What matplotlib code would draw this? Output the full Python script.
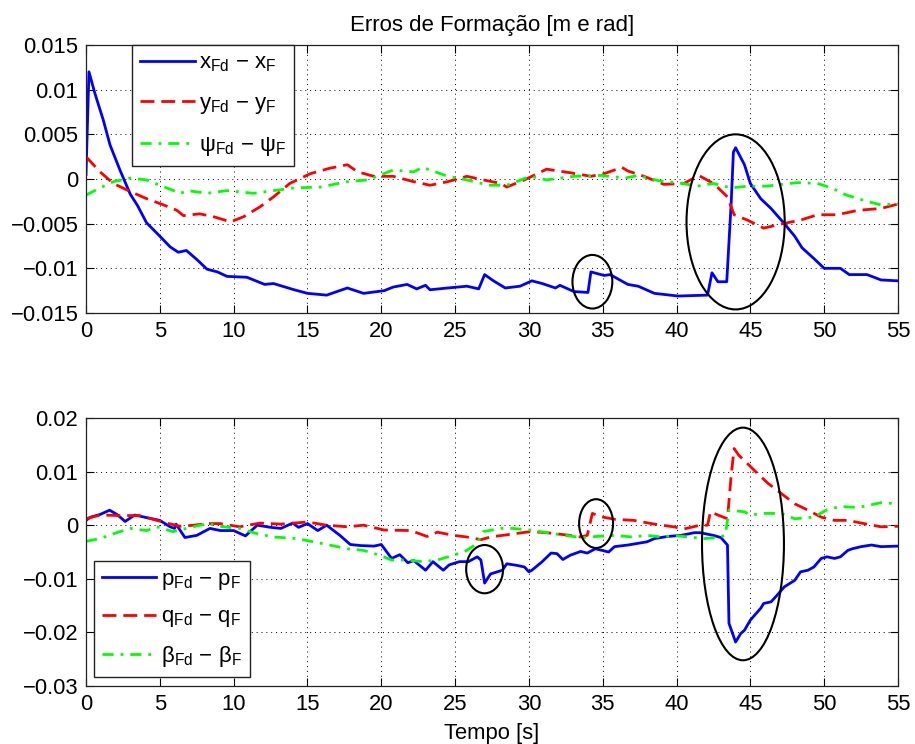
import matplotlib
matplotlib.use('Agg')
import matplotlib.pyplot as plt
from matplotlib.patches import Ellipse

plt.rcParams['font.family'] = ['Liberation Sans', 'DejaVu Sans']
plt.rcParams['font.size'] = 15.8

# --- top plot: position / heading errors ---
t_x = [0, 0.2, 0.6, 1.17, 1.63, 2.3, 3.0, 3.5, 4.1, 5.0, 5.7, 6.25, 6.8, 7.5, 8.2, 8.9,
       9.55, 10.9, 12.1, 12.7, 14.1, 15.0, 16.3, 17.7, 18.8, 20.2, 20.8, 21.75, 22.4,
       23.0, 23.3, 24.5, 25.8, 26.6, 27.0, 27.6, 28.4, 28.9, 29.4, 30.2, 30.9, 31.8,
       32.1, 33.05, 34.0, 34.2, 35.1, 35.5, 36.7, 37.4, 38.5, 40.1, 42.1, 42.4, 42.8,
       43.4, 43.7, 43.85, 44.0, 44.6, 45.0, 45.7, 46.4, 47.2, 48.0, 48.5, 49.3, 50.0,
       51.1, 51.7, 52.9, 53.85, 55]
x_err = [0.0005, 0.012, 0.0096, 0.0066, 0.0038, 0.001, -0.0017, -0.003, -0.0049, -0.0064,
         -0.0076, -0.0082, -0.008, -0.009, -0.0101, -0.0104, -0.0109, -0.011, -0.0118,
         -0.0117, -0.0124, -0.0128, -0.013, -0.0122, -0.0128, -0.0125, -0.0121, -0.0118,
         -0.0123, -0.0119, -0.0124, -0.0122, -0.012, -0.0123, -0.0107, -0.0114, -0.0122,
         -0.0121, -0.012, -0.0114, -0.0117, -0.0122, -0.0119, -0.0126, -0.0127, -0.0104,
         -0.0108, -0.0107, -0.0118, -0.012, -0.0128, -0.0131, -0.013, -0.0105, -0.0115,
         -0.0115, -0.0027, 0.003, 0.0035, 0.0016, -0.0005, -0.0022, -0.0033, -0.0048,
         -0.0064, -0.0077, -0.0089, -0.01, -0.01, -0.0107, -0.0107, -0.0113, -0.0114]

t_y = [0, 0.95, 1.85, 3.0, 4.1, 5.25, 6.15, 6.6, 7.7, 8.6, 9.8, 10.7, 11.8, 12.7, 13.8,
       15.2, 16.5, 17.7, 18.4, 19.5, 20.8, 22.2, 23.3, 24.5, 25.8, 26.9, 28.1, 28.5,
       29.7, 31.2, 32.8, 34.2, 35.1, 36.3, 36.7, 37.8, 39.15, 40.5, 41.5, 42.5, 43.45,
       43.9, 44.8, 45.9, 47.2, 48.4, 49.55, 50.9, 52.3, 53.85, 55]
y_err = [0.0025, 0.0008, -0.0005, -0.0014, -0.0022, -0.0029, -0.0035, -0.0041, -0.0039,
         -0.0042, -0.0048, -0.0042, -0.0031, -0.002, -0.0005, 0.0006, 0.0012, 0.0016,
         0.0008, 0.0003, 0.0003, -0.0003, -0.0007, -0.0003, 0.0003, -0.0001, -0.0005,
         -0.0009, -0.0001, 0.0011, 0.0007, 0.0003, 0.0006, 0.0013, 0.0009, 0.0003,
         -0.0006, -0.0005, 0.0004, -0.0005, -0.002, -0.004, -0.0046, -0.0055, -0.005,
         -0.0046, -0.004, -0.004, -0.0035, -0.0033, -0.0028]

t_psi = [0, 0.95, 1.85, 3.0, 4.1, 5.0, 6.4, 6.9, 8.2, 9.55, 11.35, 12.7, 14.1, 15.9, 17.7,
         19.1, 20.8, 22.2, 22.8, 24.5, 25.8, 27.3, 28.5, 30.1, 31.2, 33.05, 34.9, 36.5,
         37.4, 38.8, 40.4, 41.4, 42.5, 43.7, 44.8, 46.1, 48.2, 49.55, 50.5, 51.5, 52.9,
         53.85, 55]
psi_err = [-0.0018, -0.001, -0.0003, 0.0001, -0.0001, -0.0007, -0.0016, -0.0013, -0.0016,
           -0.0013, -0.0016, -0.0013, -0.001, -0.0009, -0.0003, -0.0001, 0.001, 0.0008,
           0.0013, 0.0003, -0.0001, -0.0007, -0.0007, 0.0003, -0.0001, 0.0003, 0.0004,
           0.0001, 0.0004, -0.0002, -0.0005, -0.0008, -0.0005, -0.001, -0.0008, -0.0008,
           -0.0004, -0.0005, -0.001, -0.0018, -0.0025, -0.0029, -0.0028]

# --- bottom plot: attitude errors ---
t_p = [0, 0.3, 0.95, 1.6, 2.1, 2.65, 3.3, 4.3, 5.0, 5.7, 6.0, 6.1, 6.7, 7.5, 8.4, 9.1,
       10.0, 10.8, 11.6, 12.5, 13.2, 14.0, 14.4, 15.0, 15.7, 16.3, 17.2, 17.9, 18.6,
       19.5, 20.0, 20.7, 21.25, 21.8, 22.2, 23.0, 23.5, 24.2, 24.6, 25.3, 25.9, 26.5,
       26.75, 27.0, 27.4, 28.2, 28.5, 29.2, 29.7, 30.0, 30.2, 30.9, 31.5, 31.9, 32.3,
       32.8, 33.5, 33.95, 34.5, 35.4, 35.8, 36.7, 37.35, 38.0, 38.5, 39.4, 40.3, 41.2,
       41.6, 42.5, 43.0, 43.45, 43.55, 44.0, 44.35, 44.6, 45.0, 45.7, 45.9, 46.4, 46.8,
       47.3, 48.0, 48.4, 48.9, 49.3, 49.8, 50.2, 50.7, 51.1, 51.6, 51.9, 52.5, 53.2,
       53.85, 55]
p_err = [0.0009, 0.0015, 0.002, 0.0028, 0.002, 0.0007, 0.0019, 0.0013, 0.0009, -0.0003,
         -0.0006, 0.0002, -0.0023, -0.0019, -0.0006, -0.001, -0.001, -0.002, 0.0,
         -0.0004, -0.0006, 0.0004, -0.0004, 0.0003, -0.001, 0.0, -0.0019, -0.0036,
         -0.0038, -0.0039, -0.0036, -0.0062, -0.0055, -0.007, -0.0066, -0.0084, -0.0068,
         -0.0084, -0.0074, -0.0068, -0.0068, -0.0059, -0.0065, -0.0108, -0.0091, -0.0084,
         -0.0072, -0.0075, -0.0078, -0.0087, -0.0084, -0.0068, -0.0052, -0.0053, -0.0064,
         -0.0056, -0.0049, -0.0052, -0.0044, -0.005, -0.004, -0.0037, -0.0034, -0.0031,
         -0.0025, -0.0021, -0.0019, -0.0014, -0.0014, -0.0019, -0.0023, -0.0037, -0.0183,
         -0.0218, -0.0202, -0.0196, -0.0177, -0.0155, -0.0146, -0.0143, -0.0131, -0.0115,
         -0.0103, -0.0087, -0.0084, -0.0078, -0.0062, -0.0059, -0.0062, -0.0059, -0.0047,
         -0.0044, -0.004, -0.0037, -0.004, -0.0039]

t_q = [0, 0.95, 2.3, 3.6, 4.55, 5.45, 6.4, 7.3, 8.2, 9.1, 10.4, 11.8, 13.2, 15.0, 16.3,
       17.7, 18.8, 20.2, 22.0, 23.1, 23.8, 24.9, 25.8, 26.75, 27.4, 29.0, 30.1, 31.2,
       32.8, 33.5, 33.95, 34.3, 34.85, 35.8, 37.1, 38.5, 39.8, 40.5, 41.6, 42.1, 42.3,
       42.8, 43.45, 43.7, 43.9, 44.2, 44.8, 45.5, 46.2, 47.1, 48.0, 48.9, 49.8, 50.7,
       51.6, 52.7, 53.85, 55]
q_err = [0.0012, 0.0019, 0.0018, 0.0018, 0.0011, 0.0004, -0.0002, 0.0, 0.0003, 0.0003,
         -0.0003, 0.0004, 0.0002, 0.0006, 0.0, -0.0003, 0.0, -0.0009, -0.001, -0.0021,
         -0.0013, -0.0019, -0.0022, -0.0027, -0.0022, -0.0016, -0.0012, -0.0014, -0.0019,
         -0.0022, -0.0019, 0.0022, 0.0016, 0.0011, 0.0009, 0.0002, -0.0003, -0.0007, 0.0,
         0.0, 0.0025, 0.0019, 0.0012, 0.0093, 0.0143, 0.0131, 0.0115, 0.0096, 0.0078,
         0.0059, 0.004, 0.0028, 0.0015, 0.0009, 0.0009, 0.0003, -0.0003, -0.0002]

t_beta = [0, 0.95, 1.85, 3.0, 4.1, 4.8, 5.9, 6.8, 8.2, 9.3, 10.4, 11.6, 12.7, 14.3, 15.4,
          16.5, 17.7, 18.8, 19.9, 20.7, 21.75, 22.8, 23.8, 24.9, 25.8, 26.5, 26.9, 28.1,
          28.9, 30.1, 31.7, 33.0, 33.7, 34.6, 35.8, 37.0, 38.0, 39.0, 39.8, 40.8, 41.9,
          42.8, 43.3, 43.55, 44.6, 45.0, 45.9, 47.1, 48.0, 49.3, 50.2, 51.1, 52.3, 53.85,
          55]
beta_err = [-0.003, -0.0025, -0.0016, -0.0006, -0.001, -0.0003, -0.0012, -0.0006, 0.0003,
            -0.0003, -0.0006, -0.0016, -0.0022, -0.0025, -0.0031, -0.0037, -0.0044,
            -0.0047, -0.0056, -0.0065, -0.0065, -0.0068, -0.0065, -0.0056, -0.0047,
            -0.0034, -0.0012, -0.0006, -0.0006, -0.0009, -0.0016, -0.0021, -0.0023,
            -0.0021, -0.0019, -0.0022, -0.0019, -0.0022, -0.0019, -0.0022, -0.0025,
            -0.0023, -0.0019, 0.0028, 0.0025, 0.0019, 0.0022, 0.0022, 0.0012, 0.0015,
            0.0029, 0.0035, 0.0033, 0.0042, 0.004]

xticks = [0, 5, 10, 15, 20, 25, 30, 35, 40, 45, 50, 55]
yticks_top = [-0.015, -0.01, -0.005, 0, 0.005, 0.01, 0.015]
ylabels_top = ['\u22120.015', '\u22120.01', '\u22120.005', '0', '0.005', '0.01', '0.015']
yticks_bot = [-0.03, -0.02, -0.01, 0, 0.01, 0.02]
ylabels_bot = ['\u22120.03', '\u22120.02', '\u22120.01', '0', '0.01', '0.02']

# highlighted regions: (center t, center value, width, height)
marks_top = [(34.3, -0.0115, 2.7, 0.0060), (44.0, -0.0048, 6.65, 0.0196)]
marks_bot = [(27.0, -0.0082, 2.5, 0.0090), (34.55, 0.0003, 2.3, 0.0091),
             (44.5, -0.0035, 5.55, 0.0434)]

fig = plt.figure(figsize=(9.15, 7.44), dpi=100)
ax1 = fig.add_axes([86/915, 1-313/744, 812/915, 268/744])
ax2 = fig.add_axes([86/915, 1-686/744, 812/915, 268/744])

lw = 2.0
ax1.plot(t_x, x_err, color='#0000ff', lw=lw, label='x$_{\\mathregular{Fd}}$ \u2212 x$_{\\mathregular{F}}$')
ax1.plot(t_y, y_err, color='#ff0000', lw=lw, dashes=(5, 2.5), label='y$_{\\mathregular{Fd}}$ \u2212 y$_{\\mathregular{F}}$')
ax1.plot(t_psi, psi_err, color='#00ff00', lw=lw, dashes=(4, 2.5, 1, 2.5), label='\u03c8$_{\\mathregular{Fd}}$ \u2212 \u03c8$_{\\mathregular{F}}$')

ax2.plot(t_p, p_err, color='#0000ff', lw=lw, label='p$_{\\mathregular{Fd}}$ \u2212 p$_{\\mathregular{F}}$')
ax2.plot(t_q, q_err, color='#ff0000', lw=lw, dashes=(5, 2.5), label='q$_{\\mathregular{Fd}}$ \u2212 q$_{\\mathregular{F}}$')
ax2.plot(t_beta, beta_err, color='#00ff00', lw=lw, dashes=(4, 2.5, 1, 2.5), label='\u03b2$_{\\mathregular{Fd}}$ \u2212 \u03b2$_{\\mathregular{F}}$')

for ax, marks in ((ax1, marks_top), (ax2, marks_bot)):
    for cx, cy, w, h in marks:
        ax.add_patch(Ellipse((cx, cy), w, h, fill=False, ec='black', lw=1.5, zorder=5))

for ax, yt, yl in ((ax1, yticks_top, ylabels_top), (ax2, yticks_bot, ylabels_bot)):
    ax.set_xlim(0, 55)
    ax.set_ylim(yt[0], yt[-1])
    ax.set_xticks(xticks)
    ax.set_xticklabels([str(v) for v in xticks])
    ax.set_yticks(yt)
    ax.set_yticklabels(yl)
    ax.tick_params(direction='in', length=6, width=0.8, top=True, right=True, pad=5.5,
                   labelsize=15.8)
    ax.grid(True, linestyle=(0, (1, 4)), color='black', lw=0.7)
    for s in ax.spines.values():
        s.set_linewidth(0.9)
        s.set_color('#222222')

ax1.set_title('Erros de Formação [m e rad]', fontsize=16, pad=10)
ax2.set_xlabel('Tempo [s]', fontsize=15.8, labelpad=6)

leg_kw = dict(fontsize=16, fancybox=False, framealpha=1, edgecolor='#222222',
              handlelength=2.45, handletextpad=0.2, borderpad=0.35, borderaxespad=0)
l1 = ax1.legend(loc='upper left', bbox_to_anchor=(0.057, 1.0), labelspacing=0.85, **leg_kw)
l2 = ax2.legend(loc='lower left', bbox_to_anchor=(0.01, 0.035), labelspacing=0.65, **leg_kw)
for leg in (l1, l2):
    leg.get_frame().set_linewidth(1.0)

fig.savefig('out.png', dpi=100)
